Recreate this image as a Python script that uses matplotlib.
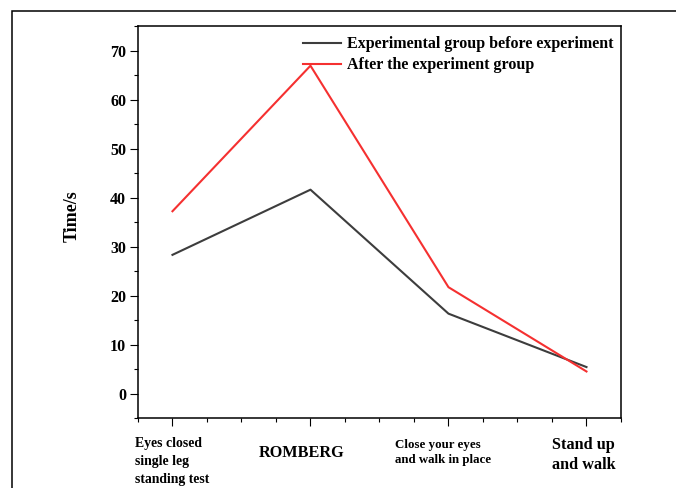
import matplotlib
matplotlib.use("Agg")
import matplotlib.pyplot as plt
import matplotlib.transforms as mtransforms
from matplotlib.patches import Rectangle
from matplotlib.ticker import MultipleLocator

# --- Данные ---
tests = ["Eyes closed\nsingle leg\nstanding test", "ROMBERG",
         "Close your eyes\nand walk in place", "Stand up\nand walk"]
x_pos = [1, 2, 3, 4]
before = [28.3, 41.6, 16.3, 5.4]
after = [37.2, 66.9, 21.7, 4.5]
series_names = ["Experimental group before experiment", "After the experiment group"]

# --- Оформление ---
plt.rcParams['font.family'] = ['Liberation Serif', 'DejaVu Serif']
plt.rcParams['font.weight'] = 'bold'

fig = plt.figure(figsize=(6.76, 4.88), dpi=100)
ax = fig.add_axes([0.2041, 0.1434, 0.7145, 0.8033])

# рамка вокруг всей картинки (обрезана справа и снизу)
fig.add_artist(Rectangle((0.0178, -0.2), 1.5, 0.9775 + 0.2, transform=fig.transFigure,
                         fill=False, edgecolor='black', linewidth=1.1))

ax.plot(x_pos, before, color='#3d3d3d', linewidth=1.5, label=series_names[0])
ax.plot(x_pos, after, color='#f53030', linewidth=1.5, label=series_names[1])

ax.set_xlim(0.75, 4.25)
ax.set_ylim(-5, 75)
ax.set_yticks(range(0, 71, 10))
ax.yaxis.set_minor_locator(MultipleLocator(5))
ax.set_xticks(x_pos)
ax.set_xticklabels(tests)
ax.xaxis.set_minor_locator(MultipleLocator(0.25))

for sp in ax.spines.values():
    sp.set_linewidth(1.1)
ax.tick_params(which='major', direction='out', length=5.5, width=0.8, labelsize=11.5)
ax.tick_params(which='minor', direction='out', length=2.8, width=0.8)
ax.tick_params(axis='y', pad=3)

# подписи категорий разного размера и положения
sizes = [9.9, 11.7, 9.3, 11.7]
pads = [8, 14, 9.5, 8.5]
spacing = [1.5, 1.0, 1.37, 1.33]
shift_x = [0, -6.5, -3.6, -2.2]  # в пунктах
for tick, lab, fs, pd_, ls, dx in zip(ax.xaxis.get_major_ticks(), ax.get_xticklabels(),
                                      sizes, pads, spacing, shift_x):
    tick.set_pad(pd_)
    lab.set_fontsize(fs)
    lab.set_multialignment('left')
    lab.set_linespacing(ls)
    if dx:
        off = mtransforms.ScaledTranslation(dx / 72, 0, fig.dpi_scale_trans)
        tick.label1.set_transform(tick.label1.get_transform() + off)

ax.set_ylabel("Time/s", fontsize=13, fontweight='bold')
ax.yaxis.set_label_coords(-0.118, 0.515)

ax.legend(loc='upper left', bbox_to_anchor=(0.3416, 0.9735), frameon=False,
          fontsize=11.55, borderpad=0, borderaxespad=0, handlelength=2.4,
          handletextpad=0.33, labelspacing=0.3)

fig.savefig("out.png", dpi=100)
